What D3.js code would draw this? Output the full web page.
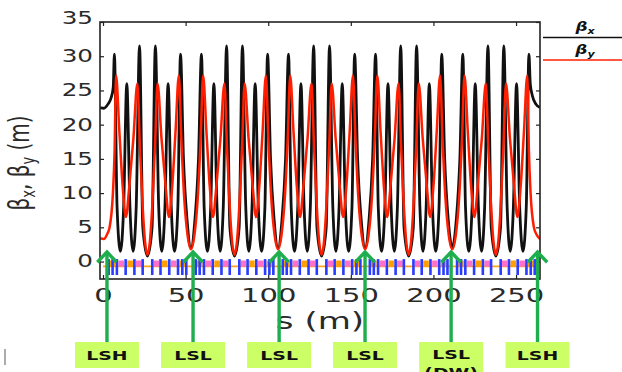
<!DOCTYPE html>
<html>
<head>
<meta charset="utf-8">
<title>Beta functions</title>
<style>
  body { margin: 0; background: #fff; }
  svg { display: block; }
  text { font-family: "DejaVu Sans", sans-serif; }
</style>
</head>
<body>
<svg id="chart" width="622" height="372"></svg>
<script src="https://d3js.org/d3.v7.min.js"></script>
<script>
// beta_x along the ring: s (m) and value (m), one line per superperiod, LS centre in between
var sBetaX = [
  -1.8, 0.5, 3.0, 5.0, 6.2, 6.9, 8.5, 10.5, 12.5, 14.4, 16.3, 18.2, 20.1, 22.1, 24.1, 26.9, 29.7, 31.7, 33.7, 35.6, 37.5, 39.4, 41.3, 43.3, 45.3, 46.9, 48.7, 50.9,
  53.25,
  55.6, 57.8, 59.6, 61.2, 63.2, 65.2, 67.1, 69.0, 70.9, 72.8, 74.8, 76.8, 79.6, 82.4, 84.4, 86.4, 88.3, 90.2, 92.1, 94.0, 96.0, 98.0, 99.6, 101.4, 103.6,
  105.95,
  108.3, 110.5, 112.3, 113.9, 115.9, 117.9, 119.8, 121.7, 123.6, 125.5, 127.5, 129.5, 132.3, 135.1, 137.1, 139.1, 141.0, 142.9, 144.8, 146.7, 148.7, 150.7, 152.3, 154.1, 156.3,
  158.65,
  161.0, 163.2, 165.0, 166.6, 168.6, 170.6, 172.5, 174.4, 176.3, 178.2, 180.2, 182.2, 185.0, 187.8, 189.8, 191.8, 193.7, 195.6, 197.5, 199.4, 201.4, 203.4, 205.0, 206.8, 209.0,
  211.4,
  213.8, 216.0, 217.8, 219.4, 221.4, 223.4, 225.3, 227.2, 229.1, 231.0, 233.0, 235.0, 237.8, 240.6, 242.6, 244.6, 246.5, 248.4, 250.3, 252.2, 254.2, 256.2, 257.8, 258.6, 259.8, 262.0, 264.5
];
var betaX = [
  22.5, 22.4, 23.0, 24.0, 25.5, 30.3, 8, 1.5, 8, 26, 8, 1.5, 8, 31.5, 5, 0.8, 5, 31.5, 8, 1.5, 8, 26, 8, 1.5, 8, 30.3, 15, 6,
  2.0,
  6, 15, 30.3, 8, 1.5, 8, 26, 8, 1.5, 8, 31.5, 5, 0.8, 5, 31.5, 8, 1.5, 8, 26, 8, 1.5, 8, 30.3, 15, 6,
  2.0,
  6, 15, 30.3, 8, 1.5, 8, 26, 8, 1.5, 8, 31.5, 5, 0.8, 5, 31.5, 8, 1.5, 8, 26, 8, 1.5, 8, 30.3, 15, 6,
  2.0,
  6, 15, 30.3, 8, 1.5, 8, 26, 8, 1.5, 8, 31.5, 5, 0.8, 5, 31.5, 8, 1.5, 8, 26, 8, 1.5, 8, 30.3, 15, 6,
  2.0,
  6, 15, 30.3, 8, 1.5, 8, 26, 8, 1.5, 8, 31.5, 5, 0.8, 5, 31.5, 8, 1.5, 8, 26, 8, 1.5, 8, 30.3, 26, 24.3, 23.0, 22.5
];

// beta_y along the ring
var sBetaY = [
  -1.8, 0.5, 2.5, 4.0, 6.0, 7.0, 7.9, 9.9, 11.9, 13.9, 15.9, 18.4, 20.8, 22.3, 23.9, 25.4, 26.9, 28.4, 29.9, 31.5, 33.0, 35.4, 37.9, 39.9, 41.9, 43.9, 45.9, 47.4, 49.1, 51.2,
  53.25,
  55.3, 57.4, 59.1, 60.6, 62.6, 64.6, 66.6, 68.6, 71.1, 73.5, 75.0, 76.6, 78.1, 79.6, 81.1, 82.6, 84.2, 85.7, 88.1, 90.6, 92.6, 94.6, 96.6, 98.6, 100.1, 101.8, 103.9,
  105.95,
  108.0, 110.1, 111.8, 113.3, 115.3, 117.3, 119.3, 121.3, 123.8, 126.2, 127.7, 129.3, 130.8, 132.3, 133.8, 135.3, 136.9, 138.4, 140.8, 143.3, 145.3, 147.3, 149.3, 151.3, 152.8, 154.5, 156.6,
  158.65,
  160.7, 162.8, 164.5, 166.0, 168.0, 170.0, 172.0, 174.0, 176.5, 178.9, 180.4, 182.0, 183.5, 185.0, 186.5, 188.0, 189.6, 191.1, 193.5, 196.0, 198.0, 200.0, 202.0, 204.0, 205.5, 207.2, 209.3,
  211.4,
  213.5, 215.6, 217.3, 218.8, 220.8, 222.8, 224.8, 226.8, 229.3, 231.7, 233.2, 234.8, 236.3, 237.8, 239.3, 240.8, 242.4, 243.9, 246.3, 248.8, 250.8, 252.8, 254.8, 256.8, 257.8, 258.8, 260.8, 262.3, 264.5
];
var betaY = [
  3.4, 3.3, 4.0, 5.0, 10, 16, 27.2, 19, 11, 6.5, 11, 18, 26, 17, 8.5, 3.0, 1.0, 3.0, 8.5, 17, 26, 18, 11, 6.5, 11, 19, 27.2, 18, 9.5, 3.8,
  1.8,
  3.8, 9.5, 18, 27.2, 19, 11, 6.5, 11, 18, 26, 17, 8.5, 3.0, 1.0, 3.0, 8.5, 17, 26, 18, 11, 6.5, 11, 19, 27.2, 18, 9.5, 3.8,
  1.8,
  3.8, 9.5, 18, 27.2, 19, 11, 6.5, 11, 18, 26, 17, 8.5, 3.0, 1.0, 3.0, 8.5, 17, 26, 18, 11, 6.5, 11, 19, 27.2, 18, 9.5, 3.8,
  1.8,
  3.8, 9.5, 18, 27.2, 19, 11, 6.5, 11, 18, 26, 17, 8.5, 3.0, 1.0, 3.0, 8.5, 17, 26, 18, 11, 6.5, 11, 19, 27.2, 18, 9.5, 3.8,
  1.8,
  3.8, 9.5, 18, 27.2, 19, 11, 6.5, 11, 18, 26, 17, 8.5, 3.0, 1.0, 3.0, 8.5, 17, 26, 18, 11, 6.5, 11, 19, 27.2, 16, 10, 5.0, 4.0, 3.3
];

// magnet layout: superperiod centres (m) and element positions inside a superperiod (m)
var cellCenters = [26.9, 79.6, 132.3, 185.0, 237.8];
var quadOffsets = [-23.5, -21.1, -18.5, -13.2, -7.9, -2.9, 2.9, 7.9, 13.2, 18.5, 21.1, 23.5];
var dipoleSpans = [[-22.8, -19.4], [-12.2, -8.8], [8.8, 12.2], [19.4, 22.8]];
var sextSpans = [[-17.6, -14.2], [-7.0, -3.6], [3.6, 7.0], [14.2, 17.6]];

// straight sections pointed at below the plot
var straightS = [2.4, 54.5, 106.6, 158.6, 210.7, 263.0];
var straightNames = ["LSH", "LSL", "LSL", "LSL", "LSL", "LSH"];
var straightNotes = ["", "", "", "", "(DW)", ""];

var xTicks = [0, 50, 100, 150, 200, 250];
var yTicks = [0, 5, 10, 15, 20, 25, 30, 35];

var svg = d3.select("#chart");
var plotLeft = 100, plotRight = 540, plotTop = 22, plotBottom = 279;
var sx = 1.45; // the figure is stretched sideways, text too

var x = d3.scaleLinear().domain([-1.82, 264.5]).range([plotLeft, plotRight]);
var y = d3.scaleLinear().domain([-2.55, 35]).range([plotBottom, plotTop]);

svg.append("clipPath").attr("id", "plotclip")
  .append("rect")
    .attr("x", plotLeft).attr("y", plotTop)
    .attr("width", plotRight - plotLeft).attr("height", plotBottom - plotTop);

var plot = svg.append("g").attr("clip-path", "url(#plotclip)");

// ****************** beta functions ******************
var lineX = d3.line()
    .x(function(d, i) { return x(sBetaX[i]); })
    .y(function(d) { return y(d); })
    .curve(d3.curveMonotoneX);

var lineY = d3.line()
    .x(function(d, i) { return x(sBetaY[i]); })
    .y(function(d) { return y(d); })
    .curve(d3.curveMonotoneX);

plot.append("path")
    .datum(betaX)
    .attr("d", lineX)
    .attr("fill", "none")
    .attr("stroke", "#111")
    .attr("stroke-width", 2.8)
    .attr("stroke-linejoin", "round");

plot.append("path")
    .datum(betaY)
    .attr("d", lineY)
    .attr("fill", "none")
    .attr("stroke", "#ff1e00")
    .attr("stroke-width", 2.5)
    .attr("stroke-linejoin", "round");

// ****************** lattice strip ******************
plot.append("line")
    .attr("x1", x(0)).attr("x2", x(264))
    .attr("y1", y(-0.7)).attr("y2", y(-0.7))
    .attr("stroke", "#ffa31a")
    .attr("stroke-width", 1.8);

cellCenters.forEach(function(c) {
  dipoleSpans.forEach(function(d) {
    plot.append("rect")
        .attr("x", x(c + d[0])).attr("width", x(c + d[1]) - x(c + d[0]))
        .attr("y", y(0.15)).attr("height", y(-0.8) - y(0.15))
        .attr("fill", "#ff9f00");
  });
  sextSpans.forEach(function(d) {
    plot.append("rect")
        .attr("x", x(c + d[0])).attr("width", x(c + d[1]) - x(c + d[0]))
        .attr("y", y(0.15)).attr("height", y(-0.75) - y(0.15))
        .attr("fill", "#ff70c8");
  });
  quadOffsets.forEach(function(q) {
    plot.append("rect")
        .attr("x", x(c + q) - 1.3).attr("width", 2.6)
        .attr("y", y(0.36)).attr("height", y(-1.97) - y(0.36))
        .attr("fill", "#2a3cff");
  });
});

// ****************** frame and axes ******************
svg.append("rect")
    .attr("x", plotLeft).attr("y", plotTop)
    .attr("width", plotRight - plotLeft).attr("height", plotBottom - plotTop)
    .attr("fill", "none")
    .attr("stroke", "#222")
    .attr("stroke-width", 1.6);

var axLeft = svg.append("g")
    .attr("transform", "translate(" + plotLeft + ",0)")
    .call(d3.axisLeft(y).tickValues(yTicks).tickSizeInner(-4).tickSizeOuter(0));
var axRight = svg.append("g")
    .attr("transform", "translate(" + plotRight + ",0)")
    .call(d3.axisRight(y).tickValues(yTicks).tickSizeInner(-4).tickSizeOuter(0).tickFormat(""));
var axBottom = svg.append("g")
    .attr("transform", "translate(0," + plotBottom + ")")
    .call(d3.axisBottom(x).tickValues(xTicks).tickSizeInner(-4).tickSizeOuter(0));
var axTop = svg.append("g")
    .attr("transform", "translate(0," + plotTop + ")")
    .call(d3.axisTop(x).tickValues(xTicks).tickSizeInner(-4).tickSizeOuter(0).tickFormat(""));

[axLeft, axRight, axBottom, axTop].forEach(function(a) {
  a.select(".domain").remove();
  a.selectAll(".tick line").attr("stroke", "#222").attr("stroke-width", 1.2);
});

axLeft.attr("font-family", "DejaVu Sans").attr("font-size", 17);
axLeft.selectAll("text")
    .attr("x", -7 / sx)
    .attr("fill", "#2a2a2a")
    .attr("transform", "scale(" + sx + ",1)");
// the top label sits a little above the frame in the original
axLeft.selectAll(".tick").filter(function(d) { return d === 35; })
  .select("text").attr("y", -4);

axBottom.attr("font-family", "DejaVu Sans").attr("font-size", 20);
axBottom.selectAll("text")
    .attr("y", 23.5).attr("dy", null)
    .attr("fill", "#2a2a2a")
    .attr("transform", "scale(" + sx + ",1)");

// axis titles
svg.append("text")
    .attr("transform", "translate(320,329) scale(" + sx + ",1)")
    .attr("text-anchor", "middle")
    .attr("font-size", 23.5)
    .attr("fill", "#2a2a2a")
    .text("s (m)");

var yTitle = svg.append("text")
    .attr("transform", "translate(29,163) scale(" + sx + ",1) rotate(-90)")
    .attr("text-anchor", "middle")
    .attr("font-size", 20)
    .attr("fill", "#2a2a2a");
yTitle.append("tspan").text("β");
yTitle.append("tspan").attr("dy", 4).attr("font-size", 13).text("x");
yTitle.append("tspan").attr("dy", -4).text(", β");
yTitle.append("tspan").attr("dy", 4).attr("font-size", 13).text("y");
yTitle.append("tspan").attr("dy", -4).text(" (m)");

// ****************** legend ******************
var legend = [
  {name: "x", color: "#111", ty: 31, ly: 37.5},
  {name: "y", color: "#ff1e00", ty: 54, ly: 60}
];
legend.forEach(function(l) {
  svg.append("line")
      .attr("x1", 543).attr("x2", 622)
      .attr("y1", l.ly).attr("y2", l.ly)
      .attr("stroke", l.color)
      .attr("stroke-width", 1.6);
  var t = svg.append("text")
      .attr("transform", "translate(585," + l.ty + ") scale(1.3,1)")
      .attr("text-anchor", "middle")
      .attr("font-size", 13)
      .attr("font-weight", "bold")
      .attr("font-style", "italic")
      .attr("fill", "#111");
  t.append("tspan").text("β");
  t.append("tspan").attr("dy", 3).attr("font-size", 8.5).text(l.name);
});

// ****************** straight section markers ******************
var green = "#1eae4e";
straightS.forEach(function(s, i) {
  var cx = x(s);
  svg.append("line")
      .attr("x1", cx).attr("x2", cx)
      .attr("y1", 252).attr("y2", 342)
      .attr("stroke", green)
      .attr("stroke-width", 3.4);
  svg.append("polyline")
      .attr("points", (cx - 8.5) + ",261 " + cx + ",252 " + (cx + 8.5) + ",261")
      .attr("fill", "none")
      .attr("stroke", green)
      .attr("stroke-width", 3.4)
      .attr("stroke-linecap", "square");

  var tall = straightNotes[i] !== "";
  svg.append("rect")
      .attr("x", cx - 32).attr("y", 342)
      .attr("width", 64).attr("height", tall ? 40 : 26)
      .attr("fill", "#ccff66");
  svg.append("text")
      .attr("transform", "translate(" + cx + "," + (tall ? 359 : 360) + ") scale(" + sx + ",1)")
      .attr("text-anchor", "middle")
      .attr("font-size", 13)
      .attr("font-weight", "bold")
      .attr("fill", "#111")
      .text(straightNames[i]);
  if (tall) {
    svg.append("text")
        .attr("transform", "translate(" + cx + ",377) scale(" + sx + ",1)")
        .attr("text-anchor", "middle")
        .attr("font-size", 13)
        .attr("font-weight", "bold")
        .attr("fill", "#111")
        .text(straightNotes[i]);
  }
});

// small grey mark at the lower left of the slide
svg.append("line")
    .attr("x1", 5).attr("x2", 5)
    .attr("y1", 349).attr("y2", 365)
    .attr("stroke", "#888")
    .attr("stroke-width", 1.4);
</script>
</body>
</html>
